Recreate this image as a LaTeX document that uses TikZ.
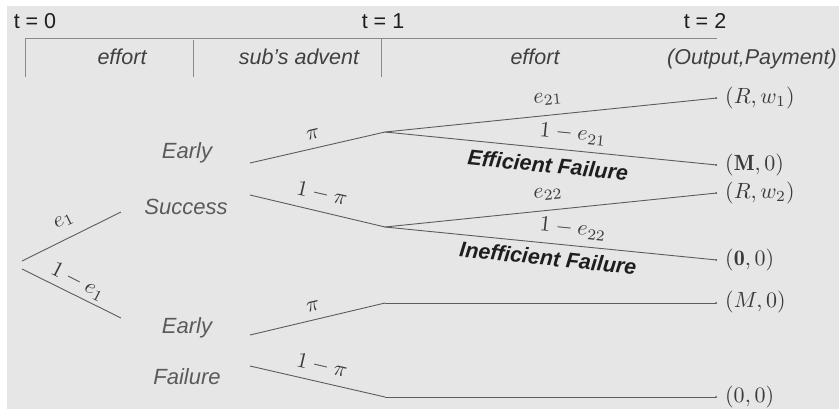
\documentclass[tikz,border=0pt]{standalone}
\usepackage{graphicx}
\usepackage{fontspec}
\setsansfont{Liberation Sans}
\usetikzlibrary{arrows.meta}
\newcommand{\mlab}[1]{\scalebox{2.2}{$#1$}}
\definecolor{bgc}{HTML}{E6E6E6}
\definecolor{linec}{HTML}{5C5C5C}
\definecolor{tlc}{HTML}{8A8A8A}
\definecolor{labc}{HTML}{5A5A5A}
\definecolor{mathc}{HTML}{3A3A3A}
\definecolor{darkc}{HTML}{1E1E1E}
\tikzset{
  branch/.style={draw=linec, line width=0.9pt},
  leafbranch/.style={branch, -{Circle[length=1.8pt]}},
  tline/.style={draw=tlc, line width=0.9pt},
  timelab/.style={font=\sffamily\fontsize{21.5}{24}\selectfont, text=darkc, inner sep=0pt, anchor=base},
  phaselab/.style={font=\sffamily\itshape\fontsize{21.5}{24}\selectfont, text=darkc!85, inner sep=0pt, anchor=base},
  statelab/.style={font=\sffamily\itshape\fontsize{22}{24}\selectfont, text=labc, inner sep=0pt, anchor=base},
  problab/.style={font=\normalsize, text=mathc, inner sep=0pt},
  outlab/.style={font=\normalsize, text=mathc, inner sep=0pt, anchor=west},
  faillab/.style={font=\sffamily\bfseries\itshape\fontsize{21.5}{24}\selectfont, text=darkc, inner sep=0pt},
}
\begin{document}
\begin{tikzpicture}[x=1pt,y=-1pt]
\useasboundingbox (0,0) rectangle (839,413);
\fill[bgc] (7,6) rectangle (839,409);

% timeline
\coordinate (t0) at (25,38);
\coordinate (t1) at (381,38);
\coordinate (t2) at (717,38);
\coordinate (tm) at (193,40);
\coordinate (t0b) at (25,77);
\coordinate (tmb) at (193,77);
\coordinate (t1b) at (381,77);
\draw[tline] (t0) -- (t2);
\draw[tline] (t0) -- (t0b);
\draw[tline] (tm) -- (tmb);
\draw[tline] (t1) -- (t1b);
\node[timelab] (lt0) at (35,28) {t = 0};
\node[timelab] (lt1) at (383,28) {t = 1};
\node[timelab] (lt2) at (705,28) {t = 2};
\node[phaselab] (ph1) at (122,64) {effort};
\node[phaselab] (ph2) at (299,64) {sub’s advent};
\node[phaselab] (ph3) at (535,64) {effort};
\node[phaselab, anchor=base east] (ph4) at (837,64) {(Output,Payment)};

% tree coordinates
\coordinate (rootA) at (22,261);
\coordinate (rootB) at (22,269);
\coordinate (succ) at (121,212);
\coordinate (fail) at (121,318);
\coordinate (es1) at (250,163);
\coordinate (es2) at (250,195);
\coordinate (ef1) at (250,335);
\coordinate (ef2) at (250,366);
\coordinate (n1) at (385,132);
\coordinate (n2) at (385,227);
\coordinate (n3) at (385,303);
\coordinate (n4) at (385,397);
\coordinate (l1) at (717,98);
\coordinate (l2) at (717,165);
\coordinate (l3) at (717,193);
\coordinate (l4) at (717,260);
\coordinate (l5) at (717,303);
\coordinate (l6) at (717,397);

% branches
\draw[branch] (rootA) -- (succ);
\draw[branch] (rootB) -- (fail);
\draw[branch] (es1) -- (n1);
\draw[branch] (es2) -- (n2);
\draw[branch] (ef1) -- (n3);
\draw[branch] (ef2) -- (n4);
\draw[leafbranch] (n1) -- (l1);
\draw[leafbranch] (n1) -- (l2);
\draw[leafbranch] (n2) -- (l3);
\draw[leafbranch] (n2) -- (l4);
\draw[leafbranch] (n3) -- (l5);
\draw[leafbranch] (n4) -- (l6);

% state labels
\node[statelab] (early1) at (187,158) {Early};
\node[statelab] (succlab) at (186,214) {Success};
\node[statelab] (early2) at (187,333) {Early};
\node[statelab] (faillabel) at (187,384) {Failure};

% probability labels
\node[problab, rotate=26] (pe1) at (64,221) {\mlab{e_1}};
\node[problab, rotate=-27] (pe1c) at (78,282) {\mlab{1-e_1}};
\node[problab, rotate=13] (ppi1) at (313,134) {\mlab{\pi}};
\node[problab, rotate=-13] (ppi1c) at (322,194) {\mlab{1-\pi}};
\node[problab, rotate=13] (ppi2) at (313,306) {\mlab{\pi}};
\node[problab, rotate=-13] (ppi2c) at (322,366) {\mlab{1-\pi}};
\node[problab, rotate=5] (pe21) at (548,99) {\mlab{e_{21}}};
\node[problab, rotate=-5.7] (pe21c) at (573,134) {\mlab{1-e_{21}}};
\node[problab, rotate=5] (pe22) at (548,194) {\mlab{e_{22}}};
\node[problab, rotate=-5.9] (pe22c) at (573,229) {\mlab{1-e_{22}}};
\node[faillab, rotate=-5.7] (effail) at (548,165) {Efficient Failure};
\node[faillab, rotate=-5.9] (ineffail) at (548,258) {Inefficient Failure};

% outcomes
\node[outlab] (o1) at (725,98) {\mlab{(R,w_1)}};
\node[outlab] (o2) at (725,165) {\mlab{(\mathbf{M},0)}};
\node[outlab] (o3) at (725,193) {\mlab{(R,w_2)}};
\node[outlab] (o4) at (725,260) {\mlab{(\mathbf{0},0)}};
\node[outlab] (o5) at (725,302) {\mlab{(M,0)}};
\node[outlab] (o6) at (725,397) {\mlab{(0,0)}};
\end{tikzpicture}
\end{document}
